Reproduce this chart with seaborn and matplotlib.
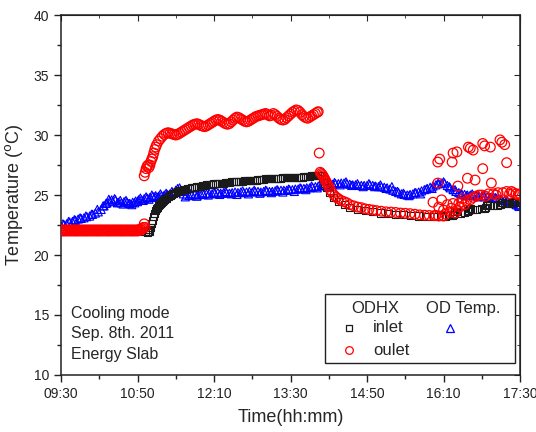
import matplotlib
matplotlib.use("Agg")
import matplotlib.pyplot as plt
import seaborn as sns
from matplotlib.patches import Rectangle
from matplotlib.ticker import MultipleLocator

# time axis: minutes after 09:30
tick_labels = ["09:30", "10:50", "12:10", "13:30", "14:50", "16:10", "17:30"]

# ODHX inlet (black squares)
inlet_t = [0, 4, 8, 12, 16, 20, 24, 28, 32, 36, 40, 44, 48, 52, 56, 60, 64, 68, 72, 76, 80, 84, 88,
           90, 91, 92, 93, 94, 95, 96, 97, 98, 99, 100, 101, 102, 103, 104, 105, 106, 107, 108, 109,
           110, 112, 114, 116, 118, 120, 122, 124, 126, 128, 130, 132, 134, 136, 138, 140, 142, 144,
           146, 148, 150, 152, 154, 156, 158, 160, 162, 164, 166, 168, 170, 172, 174, 176, 178, 180,
           182, 184, 186, 188, 190, 192, 194, 196, 198, 200, 202, 204, 206, 208, 210, 212, 214, 216,
           218, 220, 222, 224, 226, 228, 230, 232, 234, 236, 238, 240, 242, 244, 246, 248, 250, 252,
           254, 256, 258, 260, 262, 264, 266, 268, 270,
           272, 274, 276, 278, 281, 285, 290, 296, 302, 310, 318, 326, 334, 342, 350, 358, 366, 374,
           382, 390, 398, 402, 406, 409, 410, 411, 412, 414, 418, 422, 425, 426, 427, 428, 430, 434,
           440, 443, 444, 445, 446, 448, 452, 456, 459, 460, 461, 462, 464, 468, 472, 473, 474, 476,
           478, 480]
inlet_v = [22.0, 22.0, 22.05, 22.0, 22.0, 22.05, 22.0, 22.0, 22.05, 22.0, 22.0, 22.05, 22.0, 22.0,
           22.05, 22.0, 22.0, 22.05, 22.0, 22.0, 22.05, 22.0, 22.0,
           21.9, 21.95, 22.0, 22.1, 22.3, 22.6, 22.9, 23.2, 23.45, 23.7, 23.85, 24.0, 24.1, 24.2, 24.3,
           24.4, 24.45, 24.55, 24.6, 24.7, 24.75, 24.85, 24.95, 25.05, 25.15, 25.2, 25.3, 25.35, 25.4,
           25.45, 25.5, 25.55, 25.55, 25.6, 25.65, 25.65, 25.7, 25.75, 25.75, 25.8, 25.8, 25.85, 25.85,
           25.9, 25.9, 25.95, 25.95, 25.95, 26.0, 26.0, 26.0, 26.05, 26.05, 26.05, 26.1, 26.1, 26.1,
           26.1, 26.15, 26.15, 26.15, 26.2, 26.2, 26.2, 26.2, 26.25, 26.25, 26.25, 26.3, 26.3, 26.3,
           26.3, 26.35, 26.35, 26.35, 26.35, 26.4, 26.4, 26.4, 26.4, 26.4, 26.45, 26.45, 26.45, 26.45,
           26.5, 26.5, 26.5, 26.5, 26.5, 26.5, 26.5, 26.55, 26.55, 26.55, 26.55, 26.6, 26.6, 26.6,
           26.6, 26.6,
           26.6, 26.4, 26.0, 25.6, 25.2, 24.8, 24.5, 24.2, 24.0, 23.8, 23.7, 23.6, 23.5, 23.45, 23.4,
           23.35, 23.3, 23.25, 23.2, 23.2, 23.2, 23.25, 23.3, 23.3, 23.4, 23.5, 23.6, 23.6, 23.5, 23.55,
           23.6, 23.75, 23.85, 23.9, 23.8, 23.8, 23.85, 23.9, 24.0, 24.1, 24.2, 24.1, 24.1, 24.15, 24.2,
           24.25, 24.35, 24.4, 24.3, 24.3, 24.4, 24.5, 24.5, 24.4, 24.4, 24.4]

# ODHX outlet (red circles)
outlet_t = [0, 1, 2, 3, 4, 5, 6, 7, 8, 9, 10, 11, 12, 13, 14, 15, 16, 17, 18, 19, 20, 21, 22, 23, 24,
            25, 26, 27, 28, 29, 30, 31, 32, 33, 34, 35, 36, 37, 38, 39, 40, 41, 42, 43, 44, 45, 46, 47,
            48, 49, 50, 51, 52, 53, 54, 55, 56, 57, 58, 59, 60, 61, 62, 63, 64, 65, 66, 67, 68, 69, 70,
            71, 72, 73, 74, 75, 76, 77, 78, 79, 80, 81, 82, 83, 84, 85, 86, 87, 88,
            87, 88, 89, 90, 91, 92, 93, 94, 95, 96, 97, 98, 99, 100, 102, 104, 106, 108, 110, 112, 114,
            116, 118, 120, 122, 124, 126, 128, 130, 132, 134, 136, 138, 140, 142, 144, 146, 148, 150,
            152, 154, 156, 158, 160, 162, 164, 166, 168, 170, 172, 174, 176, 178, 180, 182, 184, 186,
            188, 190, 192, 194, 196, 198, 200, 202, 204, 206, 208, 210, 212, 214, 216, 218, 220, 222,
            224, 226, 228, 230, 232, 234, 236, 238, 240, 242, 244, 246, 248, 250, 252, 254, 256, 258,
            260, 262, 264, 266, 268, 269,
            270,
            271, 272, 273, 274, 275, 276, 277, 278, 279, 280, 282, 284, 286, 288, 290, 293, 296, 299,
            302, 306, 310, 314, 318, 322, 326, 330, 335, 340, 345, 350, 355, 360, 365, 370, 375, 380,
            385, 390, 395, 400,
            394, 396, 409, 410, 414, 426, 428, 431, 441, 443, 449, 459, 461, 464, 466,
            394, 415, 425, 433, 441, 450,
            389, 398, 410, 420, 431, 440, 457, 466, 473, 478,
            392, 400, 407, 414, 417, 395, 402, 404, 408, 412, 416, 419, 422, 424, 428, 434, 437, 444,
            447, 452, 455, 462, 469, 471, 476, 480]
outlet_v = [22.05, 22.1, 22.0, 22.05, 22.1, 22.0, 22.05, 22.1, 22.0, 22.05, 22.1, 22.0, 22.05, 22.1,
            22.0, 22.05, 22.1, 22.0, 22.05, 22.1, 22.0, 22.05, 22.1, 22.0, 22.05, 22.1, 22.0, 22.05,
            22.1, 22.0, 22.05, 22.1, 22.0, 22.05, 22.1, 22.0, 22.05, 22.1, 22.0, 22.05, 22.1, 22.0,
            22.05, 22.1, 22.0, 22.05, 22.1, 22.0, 22.05, 22.1, 22.0, 22.05, 22.1, 22.0, 22.05, 22.1,
            22.0, 22.05, 22.1, 22.0, 22.05, 22.1, 22.0, 22.05, 22.1, 22.0, 22.05, 22.1, 22.0, 22.05,
            22.1, 22.0, 22.05, 22.1, 22.0, 22.05, 22.1, 22.0, 22.05, 22.1, 22.0, 22.1, 22.05, 22.15,
            22.1, 22.2, 22.3, 22.6, 22.3,
            26.6, 26.9, 27.2, 27.4, 27.5, 27.3, 27.5, 27.8, 28.0, 28.2, 28.5, 28.8, 29.0, 29.2, 29.5,
            29.7, 29.9, 30.05, 30.15, 30.2, 30.15, 30.1, 30.05, 30.0, 30.05, 30.15, 30.25, 30.35,
            30.45, 30.55, 30.65, 30.75, 30.85, 30.9, 30.95, 30.9, 30.8, 30.75, 30.7, 30.75, 30.85,
            30.95, 31.05, 31.15, 31.25, 31.3, 31.25, 31.15, 31.05, 30.95, 30.9, 30.95, 31.1, 31.25,
            31.4, 31.5, 31.45, 31.35, 31.25, 31.15, 31.1, 31.15, 31.25, 31.35, 31.45, 31.55, 31.6,
            31.65, 31.7, 31.75, 31.8, 31.7, 31.6, 31.65, 31.8, 31.7, 31.55, 31.4, 31.3, 31.25, 31.3,
            31.45, 31.6, 31.75, 31.9, 32.0, 32.1, 32.05, 31.9, 31.7, 31.55, 31.45, 31.4, 31.5, 31.6,
            31.7, 31.8, 31.9, 31.95,
            28.5,
            26.9, 26.8, 26.7, 26.6, 26.45, 26.3, 26.15, 26.0, 25.85, 25.7, 25.4, 25.15, 24.95, 24.8,
            24.7, 24.55, 24.45, 24.35, 24.2, 24.1, 24.0, 23.95, 23.85, 23.8, 23.75, 23.7, 23.65, 23.6,
            23.58, 23.55, 23.5, 23.48, 23.45, 23.4, 23.35, 23.32, 23.3, 23.28, 23.25, 23.25,
            27.75, 28.0, 27.75, 28.5, 28.6, 29.0, 28.9, 28.75, 29.3, 29.1, 29.0, 29.6, 29.4, 29.2, 27.7,
            26.0, 25.75, 26.4, 26.25, 27.2, 26.0,
            24.4, 24.6, 24.3, 24.7, 24.8, 25.0, 25.2, 25.3, 25.2, 25.0,
            23.3, 23.75, 23.6, 23.75, 24.0, 24.0, 23.4, 24.2, 23.9, 23.5, 24.3, 24.4, 24.2, 24.5, 24.6,
            24.9, 25.0, 24.9, 25.1, 25.1, 25.0, 25.2, 25.1, 25.3, 25.1, 25.1]

# OD temperature (blue triangles)
od_t = [0, 3, 6, 9, 12, 15, 18, 21, 24, 27, 30, 33, 36, 39, 42, 45, 48, 51, 54, 57, 60, 63, 66, 69,
        72, 75, 78, 81, 84, 87, 90, 93, 96, 99, 102, 105, 108, 111, 114, 117, 120, 122, 124, 126, 128,
        131, 134, 137, 140, 143, 146, 149, 152, 155, 158, 161, 164, 167, 170, 173, 176, 179, 182, 185,
        188, 191, 194, 197, 200, 203, 206, 209, 212, 215, 218, 221, 224, 227, 230, 233, 236, 239, 242,
        245, 248, 251, 254, 257, 260, 263, 266, 269, 272, 275, 278, 281, 284, 287, 290, 293, 296, 299,
        302, 305, 308, 311, 314, 317, 320, 323, 326, 329, 332, 335, 338, 341, 344, 347, 350, 353, 356,
        359, 362, 365, 368, 371, 374, 377, 380, 383, 386, 389, 392, 395, 398, 401, 404, 407, 410, 413,
        416, 419, 422, 425, 428, 431, 434, 437, 440, 443, 446, 449, 452, 455, 458, 461, 464, 467, 470,
        473, 476, 479,
        2, 8, 14, 20, 26, 32, 38, 44, 47, 50, 53, 56, 59, 62, 65, 68, 71, 74, 77, 80, 83, 86, 89, 92,
        95, 98, 101, 104, 107, 110, 113, 116, 130, 136, 142, 148, 154, 160, 166, 172, 178, 184, 190,
        196, 202, 208, 214, 220, 226, 232, 238, 244, 250, 256, 262, 268, 274, 280, 286, 292, 298, 304,
        310, 316, 322, 328, 334, 340, 346, 352, 358, 364, 370, 376, 382, 388, 394, 400, 406, 412, 418,
        424, 430, 436, 442, 448, 454, 460, 466, 472, 478]
od_v = [22.4, 22.55, 22.6, 22.75, 22.8, 22.9, 23.0, 23.05, 23.1, 23.2, 23.25, 23.4, 23.5, 23.6, 23.8,
        24.1, 24.35, 24.5, 24.45, 24.6, 24.4, 24.35, 24.45, 24.4, 24.3, 24.4, 24.5, 24.6, 24.6, 24.7,
        24.75, 24.8, 24.9, 24.95, 24.9, 24.95, 25.0, 25.05, 25.1, 25.2, 25.4, 25.55, 25.6, 25.3, 25.1,
        25.0, 24.95, 25.0, 25.05, 25.0, 25.1, 25.05, 25.1, 25.15, 25.1, 25.15, 25.2, 25.15, 25.2, 25.2,
        25.15, 25.2, 25.25, 25.2, 25.25, 25.2, 25.25, 25.3, 25.25, 25.3, 25.3, 25.25, 25.3, 25.35, 25.3,
        25.3, 25.35, 25.35, 25.4, 25.4, 25.4, 25.45, 25.45, 25.5, 25.5, 25.55, 25.55, 25.6, 25.6, 25.65,
        25.7, 25.75, 25.8, 25.8, 25.85, 25.9, 25.9, 25.95, 25.95, 26.0, 26.0, 25.95, 25.9, 25.85, 25.85,
        25.8, 25.8, 25.8, 25.8, 25.85, 25.8, 25.75, 25.7, 25.7, 25.65, 25.6, 25.5, 25.4, 25.3, 25.2,
        25.1, 25.05, 25.0, 25.05, 25.1, 25.2, 25.25, 25.35, 25.45, 25.55, 25.65, 25.75, 25.85, 25.95,
        26.0, 26.0, 25.8, 25.6, 25.45, 25.3, 25.2, 25.1, 25.05, 25.0, 25.0, 24.95, 24.95, 24.9, 24.9,
        24.85, 24.85, 24.8, 24.8, 24.75, 24.7, 24.6, 24.55, 24.5, 24.4, 24.3, 24.2, 24.05,
        22.6, 22.8, 22.95, 23.1, 23.25, 23.4, 23.8, 24.1, 24.3, 24.65, 24.6, 24.7, 24.35, 24.55, 24.25,
        24.55, 24.3, 24.2, 24.35, 24.45, 24.75, 24.55, 24.85, 24.65, 25.0, 24.85, 24.8, 25.1, 24.9, 25.15,
        25.0, 25.3, 24.85, 25.15, 24.9, 25.2, 25.0, 25.25, 25.05, 25.3, 25.1, 25.05, 25.35, 25.1, 25.4,
        25.15, 25.4, 25.2, 25.45, 25.25, 25.5, 25.3, 25.6, 25.45, 25.75, 25.6, 25.95, 25.7, 26.05, 25.85,
        26.1, 25.8, 25.95, 25.7, 25.95, 25.7, 25.85, 25.55, 25.7, 25.3, 25.15, 24.95, 25.2, 25.1, 25.5,
        25.55, 25.95, 26.1, 25.7, 25.45, 25.1, 24.95, 25.1, 24.85, 24.95, 24.75, 24.8, 24.65, 24.5,
        24.3, 24.15]

sns.set_style("ticks")
plt.rcParams['font.family'] = ['Liberation Sans', 'DejaVu Sans']

fig = plt.figure(figsize=(5.36, 4.32), dpi=100)
ax = fig.add_axes([0.1138, 0.132, 0.8564, 0.833])

sns.scatterplot(x=od_t, y=od_v, marker='^', s=34, facecolor='none', edgecolor='#0000ff',
                linewidth=0.8, ax=ax, zorder=2)
sns.scatterplot(x=inlet_t, y=inlet_v, marker='s', s=26, facecolor='none', edgecolor='#1a1a1a',
                linewidth=0.8, ax=ax, zorder=3)
sns.scatterplot(x=outlet_t, y=outlet_v, marker='o', s=48, facecolor='none', edgecolor='#ff0000',
                linewidth=0.9, ax=ax, zorder=4)

ax.set_xlim(0, 480)
ax.set_ylim(10, 40)
ax.set_xticks(range(0, 481, 80))
ax.set_xticklabels(tick_labels)
ax.xaxis.set_minor_locator(MultipleLocator(40))
ax.yaxis.set_major_locator(MultipleLocator(5))
ax.yaxis.set_minor_locator(MultipleLocator(2.5))
ax.tick_params(which='major', direction='out', length=5, width=1, labelsize=10, colors='#222222')
ax.tick_params(which='minor', direction='out', length=3, width=1, colors='#222222')
for sp in ax.spines.values():
    sp.set_linewidth(1.1)
    sp.set_color('#222222')
    sp.set_visible(True)

# mirrored inward ticks on top and right
top = ax.secondary_xaxis('top')
top.set_xticks(range(0, 481, 80))
top.xaxis.set_minor_locator(MultipleLocator(40))
top.tick_params(which='both', direction='in', labeltop=False)
top.tick_params(which='major', length=4)
top.tick_params(which='minor', length=2.5)
right = ax.secondary_yaxis('right')
right.yaxis.set_major_locator(MultipleLocator(5))
right.yaxis.set_minor_locator(MultipleLocator(2.5))
right.tick_params(which='both', direction='in', labelright=False)
right.tick_params(which='major', length=4)
right.tick_params(which='minor', length=2.5)

ax.set_xlabel('Time(hh:mm)', fontsize=13, labelpad=6)
ax.set_ylabel('Temperature ($^{\\rm o}$C)', fontsize=13, labelpad=6)

# annotation
ax.text(0.022, 0.172, 'Cooling mode', transform=ax.transAxes, fontsize=11.5, va='center')
ax.text(0.022, 0.114, 'Sep. 8th. 2011', transform=ax.transAxes, fontsize=11.5, va='center')
ax.text(0.022, 0.056, 'Energy Slab', transform=ax.transAxes, fontsize=11.5, va='center')

# legend box
ax.add_patch(Rectangle((0.575, 0.033), 0.414, 0.192, transform=ax.transAxes, fill=True,
                       facecolor='white', edgecolor='#222222', linewidth=1, zorder=5))
ax.text(0.684, 0.186, 'ODHX', transform=ax.transAxes, fontsize=12, ha='center', va='center', zorder=6)
ax.text(0.876, 0.186, 'OD Temp.', transform=ax.transAxes, fontsize=12, ha='center', va='center', zorder=6)
ax.plot([0.627], [0.131], 's', ms=4.5, mfc='none', mec='#1a1a1a', mew=0.9, transform=ax.transAxes, zorder=6)
ax.plot([0.627], [0.069], 'o', ms=5.5, mfc='none', mec='#ff0000', mew=0.9, transform=ax.transAxes, zorder=6)
ax.plot([0.847], [0.131], '^', ms=5.5, mfc='none', mec='#0000ff', mew=0.9, transform=ax.transAxes, zorder=6)
ax.text(0.680, 0.131, 'inlet', transform=ax.transAxes, fontsize=12, va='center', zorder=6)
ax.text(0.680, 0.069, 'oulet', transform=ax.transAxes, fontsize=12, va='center', zorder=6)

fig.savefig('out.png', dpi=100)
